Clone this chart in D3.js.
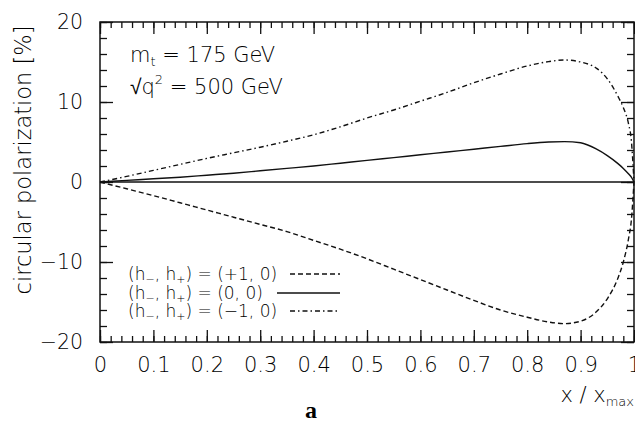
<!DOCTYPE html>
<html>
<head>
<meta charset="utf-8">
<script src="https://cdn.jsdelivr.net/npm/d3@7"></script>
<style>
  body { margin: 0; background: #fff; }
  text { font-family: "DejaVu Sans", sans-serif; font-weight: 200; fill: #000; }
</style>
</head>
<body>
<script>
// x / x_max sampling points
var xs = [0, 0.05, 0.1, 0.15, 0.2, 0.25, 0.3, 0.35, 0.4, 0.45, 0.5, 0.55, 0.6, 0.65, 0.7,
          0.75, 0.8, 0.84, 0.87, 0.9, 0.93, 0.95, 0.97, 0.98, 0.99, 0.995, 1];
// (h-, h+) = (+1, 0)  dashed
var polPlus = [0, -0.85, -1.7, -2.6, -3.5, -4.4, -5.3, -6.2, -7.3, -8.4, -9.6, -10.9, -12.2, -13.5, -14.8,
               -16.0, -16.9, -17.5, -17.7, -17.4, -16.2, -14.6, -12.0, -10.0, -7.0, -4.8, 0];
// (h-, h+) = (0, 0)  solid
var polZero = [0, 0.2, 0.4, 0.6, 0.85, 1.1, 1.4, 1.7, 2.0, 2.35, 2.7, 3.05, 3.4, 3.75, 4.1,
               4.45, 4.8, 5.0, 5.05, 4.9, 4.1, 3.3, 2.3, 1.7, 1.0, 0.6, 0];
// (h-, h+) = (-1, 0)  dash-dot
var polMinus = [0, 0.7, 1.45, 2.2, 2.95, 3.65, 4.35, 5.1, 5.9, 6.9, 8.0, 9.0, 10.1, 11.2, 12.4,
                13.5, 14.5, 15.05, 15.25, 15.0, 14.2, 12.9, 10.7, 9.3, 7.2, 5.2, 0];

var xMajor = [0, 0.1, 0.2, 0.3, 0.4, 0.5, 0.6, 0.7, 0.8, 0.9, 1];
var xMinor = d3.range(0, 1.001, 0.02);
var yMajor = [-20, -10, 0, 10, 20];
var yMinor = d3.range(-20, 20.1, 2);

var legendLabels = ["(+1, 0)", "(0, 0)", "(\u22121, 0)"];

var svg = d3.select("body").append("svg")
    .attr("width", 635)
    .attr("height", 425);

var x = d3.scaleLinear().domain([0, 1]).range([100, 634]);
var y = d3.scaleLinear().domain([-20, 20]).range([342, 22]);

var fmtY = function(d) { return d < 0 ? "\u2212" + (-d) : d; };

function clean(g) {
    g.select(".domain").remove();
    g.selectAll(".tick line").attr("stroke", "#111").attr("stroke-width", 1.3);
}

// bottom
svg.append("g").attr("transform", "translate(0,342)")
    .call(d3.axisBottom(x).tickValues(xMinor).tickSize(-6).tickFormat(""))
    .call(clean);
svg.append("g").attr("transform", "translate(0,342)")
    .call(d3.axisBottom(x).tickValues(xMajor).tickSize(-12).tickPadding(14).tickFormat(d3.format("~g")))
    .call(clean)
    .selectAll("text").style("font-size", "21px").attr("dy", "0.76em");
// top
svg.append("g").attr("transform", "translate(0,22)")
    .call(d3.axisTop(x).tickValues(xMinor).tickSize(-6).tickFormat(""))
    .call(clean);
svg.append("g").attr("transform", "translate(0,22)")
    .call(d3.axisTop(x).tickValues(xMajor).tickSize(-12).tickFormat(""))
    .call(clean);
// left
svg.append("g").attr("transform", "translate(100,0)")
    .call(d3.axisLeft(y).tickValues(yMinor).tickSize(-7).tickFormat(""))
    .call(clean);
svg.append("g").attr("transform", "translate(100,0)")
    .call(d3.axisLeft(y).tickValues(yMajor).tickSize(-13).tickPadding(17).tickFormat(fmtY))
    .call(clean)
    .selectAll("text").style("font-size", "20.5px");
// right
svg.append("g").attr("transform", "translate(634,0)")
    .call(d3.axisRight(y).tickValues(yMinor).tickSize(-7).tickFormat(""))
    .call(clean);
svg.append("g").attr("transform", "translate(634,0)")
    .call(d3.axisRight(y).tickValues(yMajor).tickSize(-13).tickFormat(""))
    .call(clean);

// frame
svg.append("rect")
    .attr("x", x(0)).attr("y", y(20))
    .attr("width", x(1) - x(0)).attr("height", y(-20) - y(20))
    .attr("fill", "none").attr("stroke", "#111").attr("stroke-width", 1.5);

// zero line
svg.append("line")
    .attr("x1", x(0)).attr("x2", x(1))
    .attr("y1", y(0)).attr("y2", y(0))
    .attr("stroke", "#111").attr("stroke-width", 1.3);

var line = d3.line()
    .x(function(d, i) { return x(xs[i]); })
    .y(function(d) { return y(d); })
    .curve(d3.curveMonotoneX);

var series = [
    { values: polPlus, dash: "5,3" },
    { values: polZero, dash: null },
    { values: polMinus, dash: "5,3,1.5,3" }
];

svg.selectAll("path.curve")
    .data(series)
    .enter().append("path")
    .attr("class", "curve")
    .attr("d", function(d) { return line(d.values); })
    .attr("fill", "none")
    .attr("stroke", "#111")
    .attr("stroke-width", 1.4)
    .attr("stroke-dasharray", function(d) { return d.dash; });

// annotations
var t1 = svg.append("text").attr("x", 130).attr("y", 62).style("font-size", "21px");
t1.append("tspan").text("m");
t1.append("tspan").attr("dy", 4).style("font-size", "13px").text("t");
t1.append("tspan").attr("dy", -4).text(" = 175 GeV");

var t2 = svg.append("text").attr("x", 130).attr("y", 94).style("font-size", "21px");
t2.append("tspan").text("\u221Aq");
t2.append("tspan").attr("dy", -10).style("font-size", "13px").text("2");
t2.append("tspan").attr("dy", 10).text(" = 500 GeV");

// legend
var legY = [280, 299, 317];
var legX1 = [290, 277, 290];
legendLabels.forEach(function(lab, i) {
    var t = svg.append("text").attr("x", 128).attr("y", legY[i]).style("font-size", "17px");
    t.append("tspan").text("(h");
    t.append("tspan").attr("dy", 3).style("font-size", "11px").text("\u2212");
    t.append("tspan").attr("dy", -3).text(", h");
    t.append("tspan").attr("dy", 3).style("font-size", "11px").text("+");
    t.append("tspan").attr("dy", -3).text(") = " + lab);
    svg.append("line")
        .attr("x1", legX1[i]).attr("x2", 340)
        .attr("y1", legY[i] - 6).attr("y2", legY[i] - 6)
        .attr("stroke", "#111").attr("stroke-width", 1.4)
        .attr("stroke-dasharray", series[i].dash);
});

// axis titles
svg.append("text")
    .attr("transform", "translate(31,160) rotate(-90)")
    .attr("text-anchor", "middle")
    .style("font-size", "22.5px")
    .text("circular polarization [%]");

var xt = svg.append("text").attr("x", 634).attr("y", 402).attr("text-anchor", "end").style("font-size", "21px");
xt.append("tspan").text("x / x");
xt.append("tspan").attr("dy", 4).style("font-size", "13px").text("max");

svg.append("text")
    .attr("x", 311).attr("y", 418)
    .attr("text-anchor", "middle")
    .style("font-family", "'Liberation Serif', serif")
    .style("font-weight", "bold")
    .style("font-size", "24px")
    .text("a");
</script>
</body>
</html>
